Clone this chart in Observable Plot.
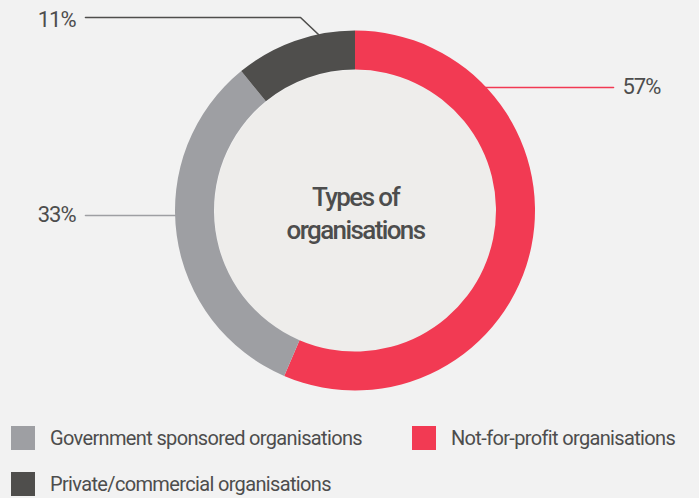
<!DOCTYPE html>
<html>
<head>
<meta charset="utf-8">
<script src="https://cdn.jsdelivr.net/npm/d3@7"></script>
<script src="https://cdn.jsdelivr.net/npm/@observablehq/plot@0.6"></script>
<style>
  html, body { margin: 0; padding: 0; background: #f2f2f2; }
  body { width: 699px; height: 498px; overflow: hidden; font-family: Roboto, "Noto Sans", sans-serif; }
  #chart svg { display: block; background: #f2f2f2; }
  .legend { position: relative; height: 88px; color: #4d4d4d; font-size: 20px; letter-spacing: -0.65px; }
  .item { position: absolute; display: flex; align-items: center; height: 24px; white-space: nowrap; }
  .sw { width: 24px; height: 24px; margin-right: 15px; flex: none; }
</style>
</head>
<body>
<div id="chart"></div>
<div class="legend" id="legend"></div>
<script>
// ---- data ----
const categories = ["Not-for-profit organisations", "Government sponsored organisations", "Private/commercial organisations"];
const values = [57, 33, 11];
const percentLabels = ["57%", "33%", "11%"];
const colors = ["#f23a53", "#9e9fa3", "#4f4e4c"];
const centerTitle = "Types of\norganisations";
const legendOrder = ["Government sponsored organisations", "Not-for-profit organisations", "Private/commercial organisations"];

// ---- layout ----
const W = 699, H = 410;
const cx = 355, cy = 210.5, rOuter = 180, rInner = 141;
const color = Plot.scale({color: {domain: categories, range: colors}});

const slices = d3.pie().sort(null).value(d => d.value)(categories.map((c, i) => ({category: c, value: values[i]})));

// leader lines layout per category
const leaderLayout = {
  "Not-for-profit organisations": {pts: [[483, 87], [613, 87]], label: [622, 86], anchor: "start"},
  "Government sponsored organisations": {pts: [[85, 215], [177, 215]], label: [75, 214], anchor: "end"},
  "Private/commercial organisations": {pts: [[85, 17], [300, 17], [318, 34]], label: [75, 19], anchor: "end"}
};
const leaderPts = categories.flatMap(c => leaderLayout[c].pts.map(([x, y]) => ({category: c, x, y})));
const labelRows = categories.map((c, i) => ({category: c, text: percentLabels[i], x: leaderLayout[c].label[0], y: leaderLayout[c].label[1], anchor: leaderLayout[c].anchor}));

function donut(index, scales, vals, dims, context) {
  const g = d3.create("svg:g");
  const arc = d3.arc().innerRadius(rInner).outerRadius(rOuter);
  g.attr("transform", `translate(${scales.x(cx)},${scales.y(cy)})`);
  g.selectAll("path").data(slices).join("path")
    .attr("d", arc)
    .attr("fill", d => color.apply(d.data.category));
  return g.node();
}

const plot = Plot.plot({
  width: W, height: H,
  margin: 0,
  style: {background: "#f2f2f2", fontFamily: "Roboto, sans-serif"},
  x: {domain: [0, W], range: [0, W], axis: null},
  y: {domain: [0, H], range: [0, H], axis: null},
  marks: [
    Plot.dot([{x: cx, y: cy}], {x: "x", y: "y", r: rInner, fill: "#eeedeb", stroke: "none"}),
    donut,
    Plot.line(leaderPts, {x: "x", y: "y", z: "category", stroke: d => color.apply(d.category), strokeWidth: 1.6, curve: "linear"}),
    Plot.text(labelRows.filter(d => d.anchor === "end"), {x: "x", y: "y", text: "text", textAnchor: "end", lineAnchor: "middle", fontSize: 22, fill: "#4d4d4d"}),
    Plot.text(labelRows.filter(d => d.anchor === "start"), {x: "x", y: "y", text: "text", textAnchor: "start", lineAnchor: "middle", fontSize: 22, fill: "#4d4d4d"}),
    Plot.text([centerTitle], {x: () => cx, y: () => 211, text: d => d, textAnchor: "middle", lineAnchor: "middle", fontSize: 26, fontWeight: 500, lineHeight: 1.27, fill: "#4d4d4d"})
  ]
});
plot.querySelectorAll("text").forEach(t => t.style.letterSpacing = t.textContent.includes("%") ? "-1px" : "-1.6px");
document.getElementById("chart").appendChild(plot);

// legend
const legend = document.getElementById("legend");
const legendPos = [[11, 16], [412, 16], [11, 62]];
legendOrder.forEach((c, i) => {
  const item = document.createElement("div");
  item.className = "item";
  item.style.left = legendPos[i][0] + "px";
  item.style.top = legendPos[i][1] + "px";
  const sw = document.createElement("span");
  sw.className = "sw";
  sw.style.background = color.apply(c);
  const tx = document.createElement("span");
  tx.textContent = c;
  item.appendChild(sw); item.appendChild(tx);
  legend.appendChild(item);
});
</script>
</body>
</html>
